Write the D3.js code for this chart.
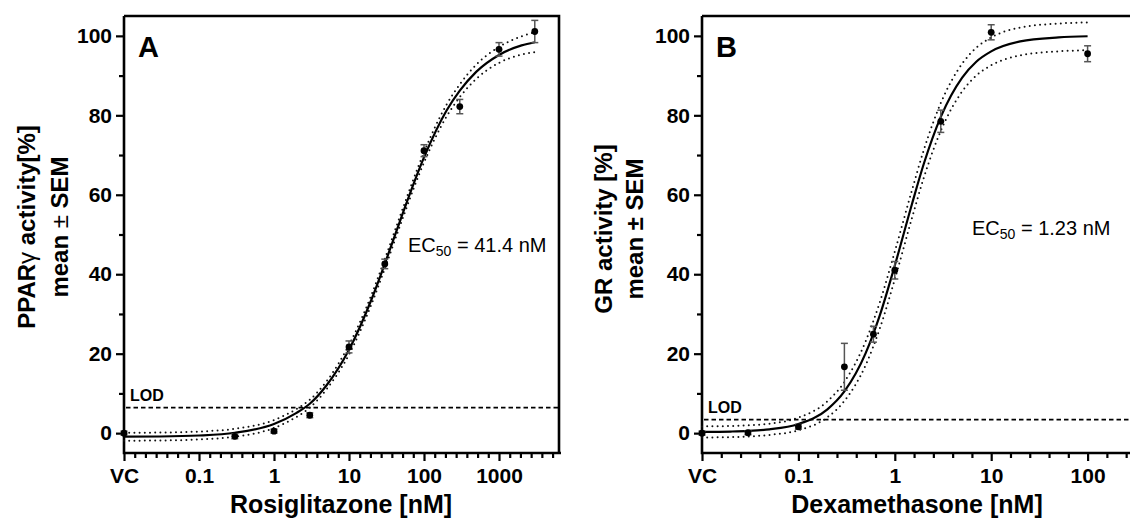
<!DOCTYPE html>
<html><head><meta charset="utf-8">
<script src="https://cdn.jsdelivr.net/npm/d3@7"></script>
<style>
html,body{margin:0;padding:0;background:#fff;}
text{font-family:"Liberation Sans",Arial,sans-serif;}
</style></head>
<body>
<script>
// ---------- Panel A : Rosiglitazone / PPARγ ----------
const A_conc = [0.01, 0.3, 1, 3, 10, 30, 100, 300, 1000, 3000];
const A_mean = [0.0, -0.8, 0.5, 4.5, 21.7, 42.6, 71.1, 82.2, 96.6, 101.1];
const A_sem  = [0.5, 0.6, 0.5, 0.6, 1.5, 1.2, 1.5, 1.8, 1.7, 2.8];
const A_fitX  = [0.01, 0.03, 0.1, 0.3, 1, 2, 3, 5, 10, 20, 30, 50, 100, 200, 300, 500, 1000, 2000, 3000];
const A_fit   = [-0.9, -0.85, -0.6, 0.1, 2.3, 5.1, 7.4, 12.0, 21.0, 33.7, 42.6, 54.4, 69.4, 81.2, 86.2, 91.0, 95.2, 97.6, 98.4];
const A_upper = [0.1, 0.15, 0.4, 1.1, 3.3, 6.1, 8.4, 13.0, 22.2, 34.9, 43.8, 55.6, 70.7, 82.7, 87.8, 92.8, 97.2, 99.9, 100.9];
const A_lower = [-1.9, -1.85, -1.6, -0.9, 1.3, 4.1, 6.4, 11.0, 19.8, 32.5, 41.4, 53.2, 68.1, 79.7, 84.6, 89.2, 93.2, 95.3, 95.9];
const A_LOD = 6.4;
const A_xTickVals = [0.01, 0.1, 1, 10, 100, 1000];
const A_xTickLabels = ["VC", "0.1", "1", "10", "100", "1000"];

// ---------- Panel B : Dexamethasone / GR ----------
const B_conc = [0.01, 0.03, 0.1, 0.3, 0.6, 1, 3, 10, 100];
const B_mean = [0.0, 0.1, 1.6, 16.7, 24.9, 41.0, 78.5, 100.9, 95.5];
const B_sem  = [0.5, 0.5, 0.6, 5.9, 2.0, 2.2, 2.8, 1.9, 2.0];
const B_fitX  = [0.01, 0.02, 0.03, 0.05, 0.1, 0.2, 0.3, 0.5, 0.7, 1, 1.5, 2, 3, 5, 7, 10, 20, 50, 100];
const B_fit   = [0.3, 0.4, 0.55, 0.95, 2.3, 6.0, 10.5, 20.2, 29.7, 42.2, 57.5, 67.8, 79.6, 89.5, 93.5, 96.1, 98.6, 99.6, 99.9];
const B_upper = [1.7, 1.8, 1.95, 2.35, 3.9, 8.0, 12.9, 23.2, 33.0, 45.7, 61.0, 71.3, 83.1, 93.0, 97.0, 99.6, 102.1, 103.1, 103.4];
const B_lower = [-1.1, -1.0, -0.85, -0.45, 0.7, 4.0, 8.1, 17.2, 26.4, 38.7, 54.0, 64.3, 76.1, 86.0, 90.0, 92.6, 95.1, 96.1, 96.4];
const B_LOD = 3.4;
const B_xTickVals = [0.01, 0.1, 1, 10, 100];
const B_xTickLabels = ["VC", "0.1", "1", "10", "100"];

const yMajor = [0, 20, 40, 60, 80, 100];
const yMinor = [10, 30, 50, 70, 90];

const W = 1130, H = 523;
const svg = d3.select("body").append("svg").attr("width", W).attr("height", H)
  .style("display", "block");
svg.append("rect").attr("width", W).attr("height", H).attr("fill", "#fff");

function panel(cfg) {
  const x = d3.scaleLog().domain(cfg.xDomain).range([cfg.left, cfg.right]);
  const y = d3.scaleLinear().domain([-5, 105]).range([453, 16]);
  const g = svg.append("g");

  // minor x ticks (evenly spaced in log within each decade)
  const lx0 = Math.log10(cfg.xDomain[0]), lx1 = Math.log10(cfg.xDomain[1]);
  const minor = [];
  for (let d = Math.floor(lx0); d < lx1; d++) {
    for (let k = 1; k < cfg.minorPerDecade; k++) {
      const v = Math.pow(10, d + k / cfg.minorPerDecade);
      if (v > cfg.xDomain[0] && v < cfg.xDomain[1]) minor.push(v);
    }
  }
  const xMinorAxis = d3.axisBottom(x).tickValues(minor).tickSize(5).tickFormat("");
  const xMajorAxis = d3.axisBottom(x).tickValues(cfg.xTickVals).tickSize(8).tickPadding(7)
    .tickFormat((d, i) => cfg.xTickLabels[i]);
  const yMinorAxis = d3.axisLeft(y).tickValues(yMinor).tickSize(5).tickFormat("");
  const yMajorAxis = d3.axisLeft(y).tickValues(yMajor).tickSize(8).tickPadding(4);

  function style(sel) {
    sel.select(".domain").remove();
    sel.selectAll("line").attr("stroke", "#000").attr("stroke-width", 2.2);
    sel.selectAll("text").attr("font-size", 21).attr("font-weight", "bold")
      .attr("fill", "#000").style("font-family", '"Liberation Sans",Arial,sans-serif');
  }
  g.append("g").attr("transform", "translate(0,453)").call(xMinorAxis).call(style);
  g.append("g").attr("transform", "translate(0,453)").call(xMajorAxis).call(style);
  g.append("g").attr("transform", `translate(${cfg.left},0)`).call(yMinorAxis).call(style);
  g.append("g").attr("transform", `translate(${cfg.left},0)`).call(yMajorAxis).call(style);

  // frame
  const fr = g.append("g").attr("stroke", "#000").attr("stroke-width", 2.6).attr("fill", "none");
  fr.append("path").attr("d",
    `M${cfg.left},${y(105)} L${cfg.left},${y(-5)} L${cfg.right + 2},${y(-5)}`);
  fr.append("path").attr("d",
    `M${cfg.left},${y(105)} L${cfg.right},${y(105)} L${cfg.right},${y(-5)}`);

  // LOD line
  g.append("line").attr("x1", cfg.left + 2).attr("x2", cfg.right)
    .attr("y1", y(cfg.lod)).attr("y2", y(cfg.lod))
    .attr("stroke", "#000").attr("stroke-width", 1.8).attr("stroke-dasharray", "4.5,3");
  g.append("text").attr("x", cfg.left + 6).attr("y", y(cfg.lod) - 7)
    .attr("font-size", 16).attr("font-weight", "bold").text("LOD");

  // confidence bands & fit
  const line = arr => d3.line().x((d, i) => x(cfg.fitX[i])).y(d => y(d)).curve(d3.curveMonotoneX)(arr);
  [cfg.upper, cfg.lower].forEach(arr => {
    g.append("path").attr("d", line(arr)).attr("fill", "none").attr("stroke", "#111")
      .attr("stroke-width", 2).attr("stroke-linecap", "round").attr("stroke-dasharray", "0,5.2");
  });
  g.append("path").attr("d", line(cfg.fit)).attr("fill", "none").attr("stroke", "#000")
    .attr("stroke-width", 2.2);

  // error bars
  const eb = g.append("g").attr("stroke", "#555").attr("stroke-width", 1.5);
  cfg.conc.forEach((c, i) => {
    const cx = x(c), lo = y(cfg.mean[i] - cfg.sem[i]), hi = y(cfg.mean[i] + cfg.sem[i]);
    eb.append("line").attr("x1", cx).attr("x2", cx).attr("y1", lo).attr("y2", hi);
    eb.append("line").attr("x1", cx - 3.5).attr("x2", cx + 3.5).attr("y1", lo).attr("y2", lo);
    eb.append("line").attr("x1", cx - 3.5).attr("x2", cx + 3.5).attr("y1", hi).attr("y2", hi);
  });
  // points
  g.selectAll(null).data(cfg.conc).enter().append("circle")
    .attr("cx", d => x(d)).attr("cy", (d, i) => y(cfg.mean[i])).attr("r", 3.4).attr("fill", "#000");

  // panel letter
  g.append("text").attr("x", cfg.left + 14).attr("y", 57).attr("font-size", 29)
    .attr("font-weight", "bold").text(cfg.letter);

  // EC50
  const ec = g.append("text").attr("x", cfg.ecX).attr("y", cfg.ecY).attr("font-size", 20);
  ec.append("tspan").text("EC");
  ec.append("tspan").attr("font-size", 14).attr("dy", 4).text("50");
  ec.append("tspan").attr("dy", -4).text(" = " + cfg.ecText);

  // x label
  g.append("text").attr("x", cfg.xLabelX).attr("y", 513).attr("text-anchor", "middle")
    .attr("font-size", 25).attr("font-weight", "bold").text(cfg.xLabel);

  // y labels
  cfg.yLines.forEach((ln, i) => {
    const t = g.append("text").attr("transform", `translate(${cfg.yLabelX[i]},${cfg.yLabelY}) rotate(-90)`)
      .attr("text-anchor", "middle").attr("font-size", 24).attr("font-weight", "bold");
    ln.forEach(part => t.append("tspan").attr("font-weight", part[1] ? "normal" : "bold").text(part[0]));
  });
}

panel({
  left: 124, right: 559, xDomain: [0.01, Math.pow(10, 3.8)], minorPerDecade: 7,
  xTickVals: A_xTickVals, xTickLabels: A_xTickLabels,
  conc: A_conc, mean: A_mean, sem: A_sem,
  fitX: A_fitX, fit: A_fit, upper: A_upper, lower: A_lower, lod: A_LOD,
  letter: "A", ecX: 408, ecY: 252, ecText: "41.4 nM",
  xLabel: "Rosiglitazone [nM]", xLabelX: 341,
  yLines: [[["PPAR", 0], ["γ", 1], [" activity[%]", 0]], [["mean ", 0], ["±", 1], [" SEM", 0]]],
  yLabelX: [35, 68], yLabelY: 227
});

panel({
  left: 702, right: 1135, xDomain: [0.01, Math.pow(10, -2 + 433 / 96.4)], minorPerDecade: 5,
  xTickVals: B_xTickVals, xTickLabels: B_xTickLabels,
  conc: B_conc, mean: B_mean, sem: B_sem,
  fitX: B_fitX, fit: B_fit, upper: B_upper, lower: B_lower, lod: B_LOD,
  letter: "B", ecX: 972, ecY: 235, ecText: "1.23 nM",
  xLabel: "Dexamethasone [nM]", xLabelX: 917,
  yLines: [[["GR activity [%]", 0]], [["mean ± SEM", 0]]],
  yLabelX: [612, 643], yLabelY: 229
});
</script>
</body></html>
